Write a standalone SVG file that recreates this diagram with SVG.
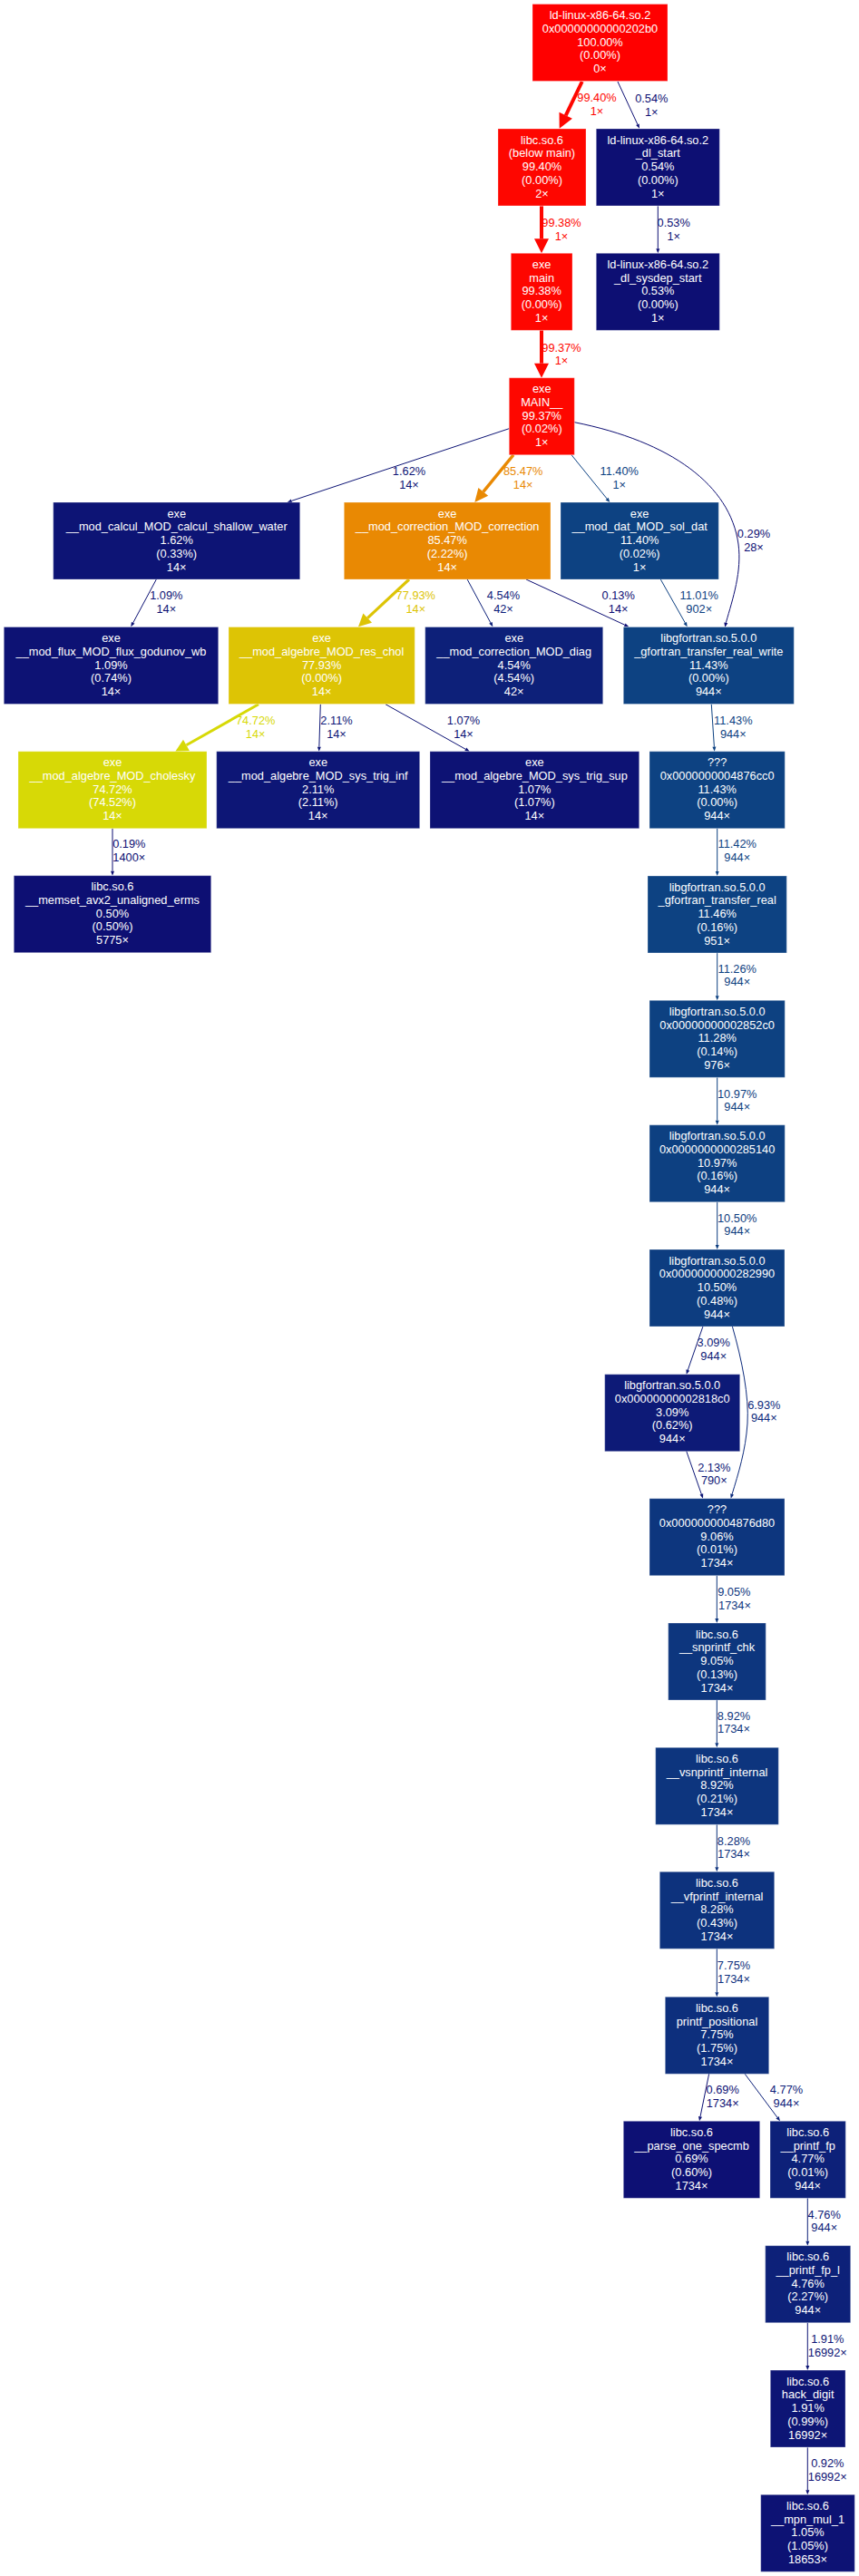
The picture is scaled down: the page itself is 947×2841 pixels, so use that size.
<svg xmlns="http://www.w3.org/2000/svg" width="947" height="2841" viewBox="0 0 947 2841">
<style>
.n rect{stroke:#ffffff;stroke-opacity:0.3;stroke-width:1}
.n text{fill:#ffffff;font-family:"Liberation Sans",Arial,sans-serif;font-size:12.8px;text-anchor:middle}
.e path{fill:none;stroke-linecap:butt}
.e text{font-family:"Liberation Sans",Arial,sans-serif;font-size:12.8px;text-anchor:middle}
</style>
<rect width="947" height="2841" fill="#ffffff"/>
<g id="edges" class="e">
<g id="e1"><path d="M641.7,90 L623.7,127.3" stroke="#fe0600" stroke-width="4"/><polygon points="616.7,141.7 616.5,123.8 630.9,130.8" fill="#fe0600"/><text x="658" y="112.2" fill="#fe0600">99.40%</text><text x="658" y="127.2" fill="#fe0600">1×</text></g>
<g id="e2"><path d="M681,90 L702.9,137.2" stroke="#0d0f73" stroke-width="1"/><polygon points="705,141.7 701.1,138 704.7,136.4" fill="#0d0f73"/><text x="718.3" y="112.5" fill="#0d0f73">0.54%</text><text x="718.3" y="127.5" fill="#0d0f73">1×</text></g>
<g id="e3"><path d="M597,227.3 L597,263.3" stroke="#fe0600" stroke-width="4"/><polygon points="597,279.3 589,263.3 605,263.3" fill="#fe0600"/><text x="619" y="249.5" fill="#fe0600">99.38%</text><text x="619" y="264.5" fill="#fe0600">1×</text></g>
<g id="e4"><path d="M725.3,227.3 L725.3,274.3" stroke="#0d0f73" stroke-width="1"/><polygon points="725.3,279.3 723.3,274.3 727.3,274.3" fill="#0d0f73"/><text x="742.7" y="249.5" fill="#0d0f73">0.53%</text><text x="742.7" y="264.5" fill="#0d0f73">1×</text></g>
<g id="e5"><path d="M597,364.3 L597,400.7" stroke="#fe0700" stroke-width="4"/><polygon points="597,416.7 589,400.7 605,400.7" fill="#fe0700"/><text x="619" y="387.5" fill="#fe0700">99.37%</text><text x="619" y="402" fill="#fe0700">1×</text></g>
<g id="e6"><path d="M561.3,472.7 L321.4,552.4" stroke="#0d1475" stroke-width="1"/><polygon points="316.7,554 320.8,550.5 322,554.3" fill="#0d1475"/><text x="451" y="523.5" fill="#0d1475">1.62%</text><text x="451" y="538.5" fill="#0d1475">14×</text></g>
<g id="e7"><path d="M566,501.7 L532.8,542.4" stroke="#e98903" stroke-width="3.4"/><polygon points="523.3,554 527.4,538 538.2,546.8" fill="#e98903"/><text x="576.7" y="523.5" fill="#e98903">85.47%</text><text x="576.7" y="538.5" fill="#e98903">14×</text></g>
<g id="e8"><path d="M630,501.7 L669.2,550.1" stroke="#0d4282" stroke-width="1"/><polygon points="672.3,554 667.6,551.4 670.7,548.8" fill="#0d4282"/><text x="682.7" y="523.5" fill="#0d4282">11.40%</text><text x="682.7" y="538.5" fill="#0d4282">1×</text></g>
<g id="e9"><path d="M633.3,465.7 C740,487 805,535 814,600 C818,630 808,660 800.3,686.8" stroke="#0d0e73" stroke-width="1"/><polygon points="799.3,691.7 798.3,686.4 802.3,687.2" fill="#0d0e73"/><text x="831" y="592.5" fill="#0d0e73">0.29%</text><text x="831" y="607.5" fill="#0d0e73">28×</text></g>
<g id="e10"><path d="M172.3,639 L146.7,686.9" stroke="#0d1274" stroke-width="1"/><polygon points="144.3,691.3 144.9,685.9 148.5,687.8" fill="#0d1274"/><text x="183.3" y="660.5" fill="#0d1274">1.09%</text><text x="183.3" y="675.5" fill="#0d1274">14×</text></g>
<g id="e11"><path d="M451,639 L405.2,681.7" stroke="#ddc405" stroke-width="3.1"/><polygon points="395,691.3 400.4,676.6 410,686.8" fill="#ddc405"/><text x="458.3" y="660.5" fill="#ddc405">77.93%</text><text x="458.3" y="675.5" fill="#ddc405">14×</text></g>
<g id="e12"><path d="M515,638.7 L540.9,686.9" stroke="#0d2079" stroke-width="1"/><polygon points="543.3,691.3 539.2,687.8 542.7,685.9" fill="#0d2079"/><text x="555" y="660.5" fill="#0d2079">4.54%</text><text x="555" y="675.5" fill="#0d2079">42×</text></g>
<g id="e13"><path d="M580,639 L688.8,689.2" stroke="#0d0e73" stroke-width="1"/><polygon points="693.3,691.3 688,691 689.6,687.4" fill="#0d0e73"/><text x="681.7" y="660.5" fill="#0d0e73">0.13%</text><text x="681.7" y="675.5" fill="#0d0e73">14×</text></g>
<g id="e14"><path d="M728.3,639 L755.3,686.9" stroke="#0d4081" stroke-width="1"/><polygon points="757.7,691.3 753.5,687.9 757,685.9" fill="#0d4081"/><text x="770.7" y="660.5" fill="#0d4081">11.01%</text><text x="770.7" y="675.5" fill="#0d4081">902×</text></g>
<g id="e15"><path d="M285,776.7 L205.5,821.8" stroke="#d7d906" stroke-width="3"/><polygon points="193.3,828.7 202,815.7 208.9,827.9" fill="#d7d906"/><text x="281.7" y="798.8" fill="#d7d906">74.72%</text><text x="281.7" y="813.8" fill="#d7d906">14×</text></g>
<g id="e16"><path d="M353.3,776.7 L351.85,823.7" stroke="#0d1676" stroke-width="1"/><polygon points="351.7,828.7 349.85,823.7 353.85,823.7" fill="#0d1676"/><text x="371" y="798.8" fill="#0d1676">2.11%</text><text x="371" y="813.8" fill="#0d1676">14×</text></g>
<g id="e17"><path d="M425,776.7 L513.3,826.3" stroke="#0d1274" stroke-width="1"/><polygon points="517.7,828.7 512.3,828 514.3,824.6" fill="#0d1274"/><text x="511" y="798.8" fill="#0d1274">1.07%</text><text x="511" y="813.8" fill="#0d1274">14×</text></g>
<g id="e18"><path d="M784.3,776.7 L787.4,823.7" stroke="#0d4282" stroke-width="1"/><polygon points="787.7,828.7 785.4,823.8 789.4,823.6" fill="#0d4282"/><text x="808.3" y="798.8" fill="#0d4282">11.43%</text><text x="808.3" y="813.8" fill="#0d4282">944×</text></g>
<g id="e19"><path d="M124,913.7 L124,960.7" stroke="#0d0e73" stroke-width="1"/><polygon points="124,965.7 122,960.7 126,960.7" fill="#0d0e73"/><text x="142.3" y="935.2" fill="#0d0e73">0.19%</text><text x="142.3" y="950.2" fill="#0d0e73">1400×</text></g>
<g id="e20"><path d="M790.7,913.7 L790.7,961" stroke="#0d4282" stroke-width="1"/><polygon points="790.7,966 788.7,961 792.7,961" fill="#0d4282"/><text x="812.7" y="935.2" fill="#0d4282">11.42%</text><text x="812.7" y="950.2" fill="#0d4282">944×</text></g>
<g id="e21"><path d="M790.7,1051 L790.7,1098.3" stroke="#0d4181" stroke-width="1"/><polygon points="790.7,1103.3 788.7,1098.3 792.7,1098.3" fill="#0d4181"/><text x="812.7" y="1072.8" fill="#0d4181">11.26%</text><text x="812.7" y="1087.2" fill="#0d4181">944×</text></g>
<g id="e22"><path d="M790.7,1188.3 L790.7,1235.7" stroke="#0d4081" stroke-width="1"/><polygon points="790.7,1240.7 788.7,1235.7 792.7,1235.7" fill="#0d4081"/><text x="812.7" y="1210.8" fill="#0d4081">10.97%</text><text x="812.7" y="1224.8" fill="#0d4081">944×</text></g>
<g id="e23"><path d="M790.7,1325.7 L790.7,1373" stroke="#0d3d80" stroke-width="1"/><polygon points="790.7,1378 788.7,1373 792.7,1373" fill="#0d3d80"/><text x="812.7" y="1347.8" fill="#0d3d80">10.50%</text><text x="812.7" y="1362.2" fill="#0d3d80">944×</text></g>
<g id="e24"><path d="M775,1462.7 L758.3,1511" stroke="#0d1a77" stroke-width="1"/><polygon points="756.7,1515.7 756.4,1510.3 760.2,1511.7" fill="#0d1a77"/><text x="786.7" y="1484.5" fill="#0d1a77">3.09%</text><text x="786.7" y="1499.5" fill="#0d1a77">944×</text></g>
<g id="e25"><path d="M807.3,1462.7 C818,1500 826,1540 824,1570 C822,1600 814,1625 807.1,1647.9" stroke="#0d2b7c" stroke-width="1"/><polygon points="805.7,1652.7 805.2,1647.3 809,1648.5" fill="#0d2b7c"/><text x="842.3" y="1553.8" fill="#0d2b7c">6.93%</text><text x="842.3" y="1567.8" fill="#0d2b7c">944×</text></g>
<g id="e26"><path d="M756.7,1600.3 L773.35,1648" stroke="#0d1676" stroke-width="1"/><polygon points="775,1652.7 771.5,1648.6 775.2,1647.3" fill="#0d1676"/><text x="787.3" y="1622.8" fill="#0d1676">2.13%</text><text x="787.3" y="1636.8" fill="#0d1676">790×</text></g>
<g id="e27"><path d="M790.3,1737.7 L790.3,1785" stroke="#0d367e" stroke-width="1"/><polygon points="790.3,1790 788.3,1785 792.3,1785" fill="#0d367e"/><text x="809.3" y="1760.2" fill="#0d367e">9.05%</text><text x="810" y="1774.5" fill="#0d367e">1734×</text></g>
<g id="e28"><path d="M790.3,1875 L790.3,1922.3" stroke="#0d357e" stroke-width="1"/><polygon points="790.3,1927.3 788.3,1922.3 792.3,1922.3" fill="#0d357e"/><text x="809" y="1897.2" fill="#0d357e">8.92%</text><text x="809" y="1911.2" fill="#0d357e">1734×</text></g>
<g id="e29"><path d="M790.3,2012.3 L790.3,2059.3" stroke="#0d327d" stroke-width="1"/><polygon points="790.3,2064.3 788.3,2059.3 792.3,2059.3" fill="#0d327d"/><text x="809" y="2034.8" fill="#0d327d">8.28%</text><text x="809" y="2048.8" fill="#0d327d">1734×</text></g>
<g id="e30"><path d="M790.3,2149.3 L790.3,2197.3" stroke="#0d2f7d" stroke-width="1"/><polygon points="790.3,2202.3 788.3,2197.3 792.3,2197.3" fill="#0d2f7d"/><text x="809" y="2171.8" fill="#0d2f7d">7.75%</text><text x="809" y="2186.5" fill="#0d2f7d">1734×</text></g>
<g id="e31"><path d="M781.7,2287 L772,2334.4" stroke="#0d1074" stroke-width="1"/><polygon points="771,2339.3 770,2334 774,2334.8" fill="#0d1074"/><text x="796.7" y="2308.5" fill="#0d1074">0.69%</text><text x="796.7" y="2323.5" fill="#0d1074">1734×</text></g>
<g id="e32"><path d="M821,2287 L857,2335.3" stroke="#0d2179" stroke-width="1"/><polygon points="860,2339.3 855.4,2336.5 858.6,2334.1" fill="#0d2179"/><text x="867" y="2308.5" fill="#0d2179">4.77%</text><text x="867" y="2323.5" fill="#0d2179">944×</text></g>
<g id="e33"><path d="M890.3,2424.3 L890.3,2471.7" stroke="#0d2179" stroke-width="1"/><polygon points="890.3,2476.7 888.3,2471.7 892.3,2471.7" fill="#0d2179"/><text x="908.7" y="2447.2" fill="#0d2179">4.76%</text><text x="908.7" y="2460.5" fill="#0d2179">944×</text></g>
<g id="e34"><path d="M890.3,2561.7 L890.3,2609" stroke="#0d1575" stroke-width="1"/><polygon points="890.3,2614 888.3,2609 892.3,2609" fill="#0d1575"/><text x="912.3" y="2583.8" fill="#0d1575">1.91%</text><text x="912.3" y="2598.8" fill="#0d1575">16992×</text></g>
<g id="e35"><path d="M890.3,2699.3 L890.3,2746.3" stroke="#0d1174" stroke-width="1"/><polygon points="890.3,2751.3 888.3,2746.3 892.3,2746.3" fill="#0d1174"/><text x="912.3" y="2721.2" fill="#0d1174">0.92%</text><text x="912.3" y="2735.5" fill="#0d1174">16992×</text></g>
</g>
<g id="n1" class="n"><rect x="587" y="4.5" width="149" height="85" fill="#ff0000"/><text><tspan x="661.5" y="21">ld-linux-x86-64.so.2</tspan><tspan x="661.5" y="35.75">0x00000000000202b0</tspan><tspan x="661.5" y="50.5">100.00%</tspan><tspan x="661.5" y="65.25">(0.00%)</tspan><tspan x="661.5" y="80">0×</tspan></text></g>
<g id="n2" class="n"><rect x="549" y="142" width="97" height="85" fill="#fe0600"/><text><tspan x="597.5" y="158.5">libc.so.6</tspan><tspan x="597.5" y="173.25">(below main)</tspan><tspan x="597.5" y="188">99.40%</tspan><tspan x="597.5" y="202.75">(0.00%)</tspan><tspan x="597.5" y="217.5">2×</tspan></text></g>
<g id="n3" class="n"><rect x="657.3" y="142" width="136" height="85" fill="#0d0f73"/><text><tspan x="725.3" y="158.5">ld-linux-x86-64.so.2</tspan><tspan x="725.3" y="173.25">_dl_start</tspan><tspan x="725.3" y="188">0.54%</tspan><tspan x="725.3" y="202.75">(0.00%)</tspan><tspan x="725.3" y="217.5">1×</tspan></text></g>
<g id="n4" class="n"><rect x="563.3" y="279.3" width="67.7" height="85" fill="#fe0600"/><text><tspan x="597.15" y="295.8">exe</tspan><tspan x="597.15" y="310.55">main</tspan><tspan x="597.15" y="325.3">99.38%</tspan><tspan x="597.15" y="340.05">(0.00%)</tspan><tspan x="597.15" y="354.8">1×</tspan></text></g>
<g id="n5" class="n"><rect x="657.3" y="279.3" width="136" height="85" fill="#0d0f73"/><text><tspan x="725.3" y="295.8">ld-linux-x86-64.so.2</tspan><tspan x="725.3" y="310.55">_dl_sysdep_start</tspan><tspan x="725.3" y="325.3">0.53%</tspan><tspan x="725.3" y="340.05">(0.00%)</tspan><tspan x="725.3" y="354.8">1×</tspan></text></g>
<g id="n6" class="n"><rect x="561.3" y="416.7" width="72" height="85" fill="#fe0700"/><text><tspan x="597.3" y="433.2">exe</tspan><tspan x="597.3" y="447.95">MAIN__</tspan><tspan x="597.3" y="462.7">99.37%</tspan><tspan x="597.3" y="477.45">(0.02%)</tspan><tspan x="597.3" y="492.2">1×</tspan></text></g>
<g id="n7" class="n"><rect x="58.7" y="554" width="272" height="85" fill="#0d1475"/><text><tspan x="194.7" y="570.5">exe</tspan><tspan x="194.7" y="585.25">__mod_calcul_MOD_calcul_shallow_water</tspan><tspan x="194.7" y="600">1.62%</tspan><tspan x="194.7" y="614.75">(0.33%)</tspan><tspan x="194.7" y="629.5">14×</tspan></text></g>
<g id="n8" class="n"><rect x="379.3" y="554" width="227.7" height="85" fill="#e98903"/><text><tspan x="493.15" y="570.5">exe</tspan><tspan x="493.15" y="585.25">__mod_correction_MOD_correction</tspan><tspan x="493.15" y="600">85.47%</tspan><tspan x="493.15" y="614.75">(2.22%)</tspan><tspan x="493.15" y="629.5">14×</tspan></text></g>
<g id="n9" class="n"><rect x="618" y="554" width="174.3" height="85" fill="#0d4282"/><text><tspan x="705.15" y="570.5">exe</tspan><tspan x="705.15" y="585.25">__mod_dat_MOD_sol_dat</tspan><tspan x="705.15" y="600">11.40%</tspan><tspan x="705.15" y="614.75">(0.02%)</tspan><tspan x="705.15" y="629.5">1×</tspan></text></g>
<g id="n10" class="n"><rect x="4.3" y="691.5" width="236.4" height="85" fill="#0d1274"/><text><tspan x="122.5" y="708">exe</tspan><tspan x="122.5" y="722.75">__mod_flux_MOD_flux_godunov_wb</tspan><tspan x="122.5" y="737.5">1.09%</tspan><tspan x="122.5" y="752.25">(0.74%)</tspan><tspan x="122.5" y="767">14×</tspan></text></g>
<g id="n11" class="n"><rect x="252" y="691.5" width="205.3" height="85" fill="#ddc405"/><text><tspan x="354.65" y="708">exe</tspan><tspan x="354.65" y="722.75">__mod_algebre_MOD_res_chol</tspan><tspan x="354.65" y="737.5">77.93%</tspan><tspan x="354.65" y="752.25">(0.00%)</tspan><tspan x="354.65" y="767">14×</tspan></text></g>
<g id="n12" class="n"><rect x="468.7" y="691.5" width="196" height="85" fill="#0d2079"/><text><tspan x="566.7" y="708">exe</tspan><tspan x="566.7" y="722.75">__mod_correction_MOD_diag</tspan><tspan x="566.7" y="737.5">4.54%</tspan><tspan x="566.7" y="752.25">(4.54%)</tspan><tspan x="566.7" y="767">42×</tspan></text></g>
<g id="n13" class="n"><rect x="687.3" y="691.5" width="188" height="85" fill="#0d4282"/><text><tspan x="781.3" y="708">libgfortran.so.5.0.0</tspan><tspan x="781.3" y="722.75">_gfortran_transfer_real_write</tspan><tspan x="781.3" y="737.5">11.43%</tspan><tspan x="781.3" y="752.25">(0.00%)</tspan><tspan x="781.3" y="767">944×</tspan></text></g>
<g id="n14" class="n"><rect x="20" y="828.7" width="208" height="85" fill="#d7d906"/><text><tspan x="124" y="845.2">exe</tspan><tspan x="124" y="859.95">__mod_algebre_MOD_cholesky</tspan><tspan x="124" y="874.7">74.72%</tspan><tspan x="124" y="889.45">(74.52%)</tspan><tspan x="124" y="904.2">14×</tspan></text></g>
<g id="n15" class="n"><rect x="238.7" y="828.7" width="224" height="85" fill="#0d1676"/><text><tspan x="350.7" y="845.2">exe</tspan><tspan x="350.7" y="859.95">__mod_algebre_MOD_sys_trig_inf</tspan><tspan x="350.7" y="874.7">2.11%</tspan><tspan x="350.7" y="889.45">(2.11%)</tspan><tspan x="350.7" y="904.2">14×</tspan></text></g>
<g id="n16" class="n"><rect x="474" y="828.7" width="230.7" height="85" fill="#0d1274"/><text><tspan x="589.35" y="845.2">exe</tspan><tspan x="589.35" y="859.95">__mod_algebre_MOD_sys_trig_sup</tspan><tspan x="589.35" y="874.7">1.07%</tspan><tspan x="589.35" y="889.45">(1.07%)</tspan><tspan x="589.35" y="904.2">14×</tspan></text></g>
<g id="n17" class="n"><rect x="716" y="828.7" width="149.3" height="85" fill="#0d4282"/><text><tspan x="790.65" y="845.2">???</tspan><tspan x="790.65" y="859.95">0x0000000004876cc0</tspan><tspan x="790.65" y="874.7">11.43%</tspan><tspan x="790.65" y="889.45">(0.00%)</tspan><tspan x="790.65" y="904.2">944×</tspan></text></g>
<g id="n18" class="n"><rect x="15.3" y="965.7" width="217.4" height="85" fill="#0d0f73"/><text><tspan x="124" y="982.2">libc.so.6</tspan><tspan x="124" y="996.95">__memset_avx2_unaligned_erms</tspan><tspan x="124" y="1011.7">0.50%</tspan><tspan x="124" y="1026.45">(0.50%)</tspan><tspan x="124" y="1041.2">5775×</tspan></text></g>
<g id="n19" class="n"><rect x="714" y="966" width="153.3" height="85" fill="#0d4282"/><text><tspan x="790.65" y="982.5">libgfortran.so.5.0.0</tspan><tspan x="790.65" y="997.25">_gfortran_transfer_real</tspan><tspan x="790.65" y="1012">11.46%</tspan><tspan x="790.65" y="1026.75">(0.16%)</tspan><tspan x="790.65" y="1041.5">951×</tspan></text></g>
<g id="n20" class="n"><rect x="716" y="1103.3" width="149.3" height="85" fill="#0d4181"/><text><tspan x="790.65" y="1119.8">libgfortran.so.5.0.0</tspan><tspan x="790.65" y="1134.55">0x00000000002852c0</tspan><tspan x="790.65" y="1149.3">11.28%</tspan><tspan x="790.65" y="1164.05">(0.14%)</tspan><tspan x="790.65" y="1178.8">976×</tspan></text></g>
<g id="n21" class="n"><rect x="716" y="1240.7" width="149.3" height="85" fill="#0d4081"/><text><tspan x="790.65" y="1257.2">libgfortran.so.5.0.0</tspan><tspan x="790.65" y="1271.95">0x0000000000285140</tspan><tspan x="790.65" y="1286.7">10.97%</tspan><tspan x="790.65" y="1301.45">(0.16%)</tspan><tspan x="790.65" y="1316.2">944×</tspan></text></g>
<g id="n22" class="n"><rect x="716" y="1378" width="149" height="85" fill="#0d3d80"/><text><tspan x="790.5" y="1394.5">libgfortran.so.5.0.0</tspan><tspan x="790.5" y="1409.25">0x0000000000282990</tspan><tspan x="790.5" y="1424">10.50%</tspan><tspan x="790.5" y="1438.75">(0.48%)</tspan><tspan x="790.5" y="1453.5">944×</tspan></text></g>
<g id="n23" class="n"><rect x="666.7" y="1515.7" width="149" height="85" fill="#0d1a77"/><text><tspan x="741.2" y="1532.2">libgfortran.so.5.0.0</tspan><tspan x="741.2" y="1546.95">0x00000000002818c0</tspan><tspan x="741.2" y="1561.7">3.09%</tspan><tspan x="741.2" y="1576.45">(0.62%)</tspan><tspan x="741.2" y="1591.2">944×</tspan></text></g>
<g id="n24" class="n"><rect x="716" y="1652.7" width="149" height="85" fill="#0d367e"/><text><tspan x="790.5" y="1669.2">???</tspan><tspan x="790.5" y="1683.95">0x0000000004876d80</tspan><tspan x="790.5" y="1698.7">9.06%</tspan><tspan x="790.5" y="1713.45">(0.01%)</tspan><tspan x="790.5" y="1728.2">1734×</tspan></text></g>
<g id="n25" class="n"><rect x="736.7" y="1790" width="107.6" height="85" fill="#0d367e"/><text><tspan x="790.5" y="1806.5">libc.so.6</tspan><tspan x="790.5" y="1821.25">__snprintf_chk</tspan><tspan x="790.5" y="1836">9.05%</tspan><tspan x="790.5" y="1850.75">(0.13%)</tspan><tspan x="790.5" y="1865.5">1734×</tspan></text></g>
<g id="n26" class="n"><rect x="722.7" y="1927.3" width="135.6" height="85" fill="#0d357e"/><text><tspan x="790.5" y="1943.8">libc.so.6</tspan><tspan x="790.5" y="1958.55">__vsnprintf_internal</tspan><tspan x="790.5" y="1973.3">8.92%</tspan><tspan x="790.5" y="1988.05">(0.21%)</tspan><tspan x="790.5" y="2002.8">1734×</tspan></text></g>
<g id="n27" class="n"><rect x="727.3" y="2064.3" width="126.4" height="85" fill="#0d327d"/><text><tspan x="790.5" y="2080.8">libc.so.6</tspan><tspan x="790.5" y="2095.55">__vfprintf_internal</tspan><tspan x="790.5" y="2110.3">8.28%</tspan><tspan x="790.5" y="2125.05">(0.43%)</tspan><tspan x="790.5" y="2139.8">1734×</tspan></text></g>
<g id="n28" class="n"><rect x="733.3" y="2202.3" width="114.4" height="85" fill="#0d2f7d"/><text><tspan x="790.5" y="2218.8">libc.so.6</tspan><tspan x="790.5" y="2233.55">printf_positional</tspan><tspan x="790.5" y="2248.3">7.75%</tspan><tspan x="790.5" y="2263.05">(1.75%)</tspan><tspan x="790.5" y="2277.8">1734×</tspan></text></g>
<g id="n29" class="n"><rect x="687.3" y="2339.3" width="150.4" height="85" fill="#0d1074"/><text><tspan x="762.5" y="2355.8">libc.so.6</tspan><tspan x="762.5" y="2370.55">__parse_one_specmb</tspan><tspan x="762.5" y="2385.3">0.69%</tspan><tspan x="762.5" y="2400.05">(0.60%)</tspan><tspan x="762.5" y="2414.8">1734×</tspan></text></g>
<g id="n30" class="n"><rect x="849" y="2339.3" width="83.3" height="85" fill="#0d2179"/><text><tspan x="890.65" y="2355.8">libc.so.6</tspan><tspan x="890.65" y="2370.55">__printf_fp</tspan><tspan x="890.65" y="2385.3">4.77%</tspan><tspan x="890.65" y="2400.05">(0.01%)</tspan><tspan x="890.65" y="2414.8">944×</tspan></text></g>
<g id="n31" class="n"><rect x="843.7" y="2476.7" width="94" height="85" fill="#0d2179"/><text><tspan x="890.7" y="2493.2">libc.so.6</tspan><tspan x="890.7" y="2507.95">__printf_fp_l</tspan><tspan x="890.7" y="2522.7">4.76%</tspan><tspan x="890.7" y="2537.45">(2.27%)</tspan><tspan x="890.7" y="2552.2">944×</tspan></text></g>
<g id="n32" class="n"><rect x="849.3" y="2614" width="82.7" height="85" fill="#0d1575"/><text><tspan x="890.65" y="2630.5">libc.so.6</tspan><tspan x="890.65" y="2645.25">hack_digit</tspan><tspan x="890.65" y="2660">1.91%</tspan><tspan x="890.65" y="2674.75">(0.99%)</tspan><tspan x="890.65" y="2689.5">16992×</tspan></text></g>
<g id="n33" class="n"><rect x="838.7" y="2751.3" width="103.6" height="85" fill="#0d1274"/><text><tspan x="890.5" y="2767.8">libc.so.6</tspan><tspan x="890.5" y="2782.55">__mpn_mul_1</tspan><tspan x="890.5" y="2797.3">1.05%</tspan><tspan x="890.5" y="2812.05">(1.05%)</tspan><tspan x="890.5" y="2826.8">18653×</tspan></text></g>
</svg>
